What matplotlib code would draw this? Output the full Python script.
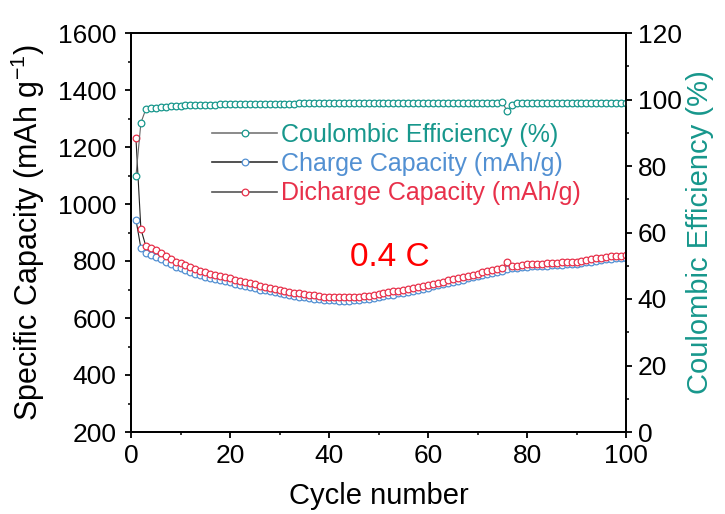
import matplotlib
matplotlib.use("Agg")
import matplotlib.pyplot as plt
from matplotlib.lines import Line2D
from matplotlib.ticker import MultipleLocator

plt.rcParams['font.family'] = ['Liberation Sans', 'DejaVu Sans']
plt.rcParams['mathtext.default'] = 'regular'

cycles = list(range(1, 101))

discharge = [1230, 912, 852, 845, 838, 828, 818, 808, 798, 792,
             785, 778, 772, 766, 761, 756, 752, 748, 745, 740,
             735, 731, 727, 723, 719, 714, 710, 706, 702, 698,
             695, 692, 689, 686, 684, 681, 679, 677, 675, 674,
             673, 672, 672, 672, 673, 674, 676, 678, 681, 684,
             687, 690, 693, 696, 699, 702, 705, 708, 712, 716,
             720, 724, 728, 732, 736, 740, 744, 748, 752, 756,
             760, 764, 767, 771, 775, 798, 784, 784, 786, 788,
             789, 790, 791, 792, 793, 794, 795, 796, 797, 798,
             800, 803, 806, 809, 812, 815, 817, 818, 819, 820]

charge = [945, 845, 828, 822, 815, 806, 797, 788, 780, 774,
          768, 762, 756, 750, 745, 740, 736, 732, 729, 725,
          720, 716, 712, 708, 704, 700, 697, 693, 690, 686,
          683, 680, 678, 675, 673, 670, 668, 666, 664, 663,
          662, 661, 661, 661, 662, 663, 665, 667, 670, 673,
          676, 679, 682, 686, 689, 692, 695, 699, 703, 707,
          711, 715, 719, 723, 727, 731, 735, 739, 743, 747,
          751, 755, 758, 762, 766, 772, 775, 776, 778, 780,
          781, 782, 783, 784, 785, 786, 787, 788, 789, 790,
          792, 795, 798, 801, 804, 806, 808, 809, 810, 811]

ce = [77.0, 93.0, 97.1, 97.3, 97.5, 97.7, 97.8, 97.9, 98.0, 98.1,
      98.2, 98.2, 98.3, 98.3, 98.4, 98.4, 98.4, 98.5, 98.5, 98.5,
      98.5, 98.6, 98.6, 98.6, 98.6, 98.6, 98.7, 98.7, 98.7, 98.7,
      98.7, 98.7, 98.7, 98.8, 98.8, 98.8, 98.8, 98.8, 98.8, 98.8,
      98.8, 98.8, 98.8, 98.8, 98.8, 98.8, 98.8, 98.8, 98.8, 98.8,
      98.9, 98.9, 98.9, 98.9, 98.9, 98.9, 98.9, 98.9, 98.9, 99.0,
      99.0, 99.0, 99.0, 99.0, 99.0, 99.0, 99.0, 99.0, 99.0, 99.0,
      99.0, 99.0, 99.0, 99.0, 99.2, 96.5, 98.4, 98.8, 98.9, 98.9,
      98.9, 98.9, 98.9, 98.9, 98.9, 98.9, 98.9, 98.9, 98.9, 98.9,
      98.9, 98.9, 98.9, 98.9, 98.9, 99.0, 99.0, 99.0, 99.0, 99.0]

labels = ["Coulombic Efficiency (%)", "Charge Capacity (mAh/g)", "Dicharge Capacity (mAh/g)"]
rate_text = "0.4 C"

TEAL = "#17978C"
BLUE = "#5290D2"
RED = "#E8304A"

fig = plt.figure(figsize=(7.25, 5.14), dpi=100)
ax = fig.add_axes([131/725, 1-432/514, 495/725, 399/514])
ax2 = ax.twinx()

mk = dict(marker='o', markersize=4.8, markerfacecolor='white', markeredgewidth=0.9)
ax.plot(cycles, charge, color='#222222', lw=0.8, markeredgecolor=BLUE, **mk)
ax.plot(cycles, discharge, color='#222222', lw=0.8, markeredgecolor=RED, **mk)
ax2.plot(cycles, ce, color='#666666', lw=0.8, markeredgecolor=TEAL, **mk)

ax.set_xlim(0, 100)
ax.set_ylim(200, 1600)
ax2.set_ylim(0, 120)

ax.xaxis.set_major_locator(MultipleLocator(20))
ax.xaxis.set_minor_locator(MultipleLocator(10))
ax.yaxis.set_major_locator(MultipleLocator(200))
ax.yaxis.set_minor_locator(MultipleLocator(100))
ax2.yaxis.set_major_locator(MultipleLocator(20))
ax2.yaxis.set_minor_locator(MultipleLocator(10))

for a in (ax, ax2):
    for s in a.spines.values():
        s.set_linewidth(1.3)
    a.tick_params(which='major', direction='out', length=4.5, width=1.3, labelsize=19)
    a.tick_params(which='minor', direction='out', length=2.5, width=1.1)
ax.tick_params(axis='y', which='major', pad=6)
ax.tick_params(axis='x', which='major', pad=4)
ax2.tick_params(axis='y', which='major', pad=4)

ax.set_xlabel("Cycle number", fontsize=21, labelpad=10)
ax.set_ylabel("Specific Capacity (mAh g$^{-1}$)", fontsize=22, labelpad=8)
ax2.set_ylabel("Coulombic Efficiency (%)", fontsize=21, color=TEAL, labelpad=3)

ax2.text(44.2, 814, rate_text, transform=ax.transData, fontsize=24, color='#FF0000',
         ha='left', va='center')

handles = [
    Line2D([], [], color='#777777', lw=1.2, marker='o', markersize=4.8,
           markerfacecolor='white', markeredgecolor=TEAL, markeredgewidth=0.9),
    Line2D([], [], color='#333333', lw=1.2, marker='o', markersize=4.8,
           markerfacecolor='white', markeredgecolor=BLUE, markeredgewidth=0.9),
    Line2D([], [], color='#555555', lw=1.2, marker='o', markersize=4.8,
           markerfacecolor='white', markeredgecolor=RED, markeredgewidth=0.9),
]
leg = ax2.legend(handles, labels, loc='upper left', bbox_to_anchor=(0.164, 0.775),
                 frameon=False, fontsize=18, handlelength=2.6, handletextpad=0.15,
                 labelspacing=0.21, borderaxespad=0, borderpad=0,
                 labelcolor=[TEAL, BLUE, RED])

fig.savefig("out.png", dpi=100)
